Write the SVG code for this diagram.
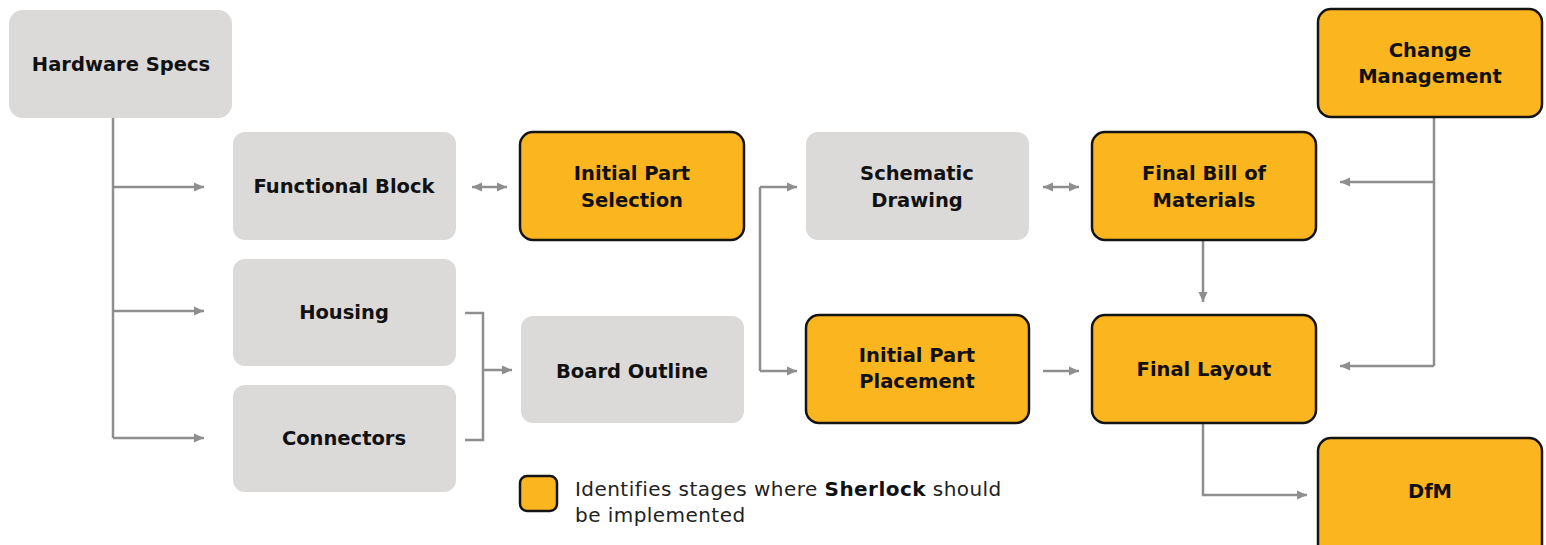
<svg xmlns="http://www.w3.org/2000/svg" width="1546" height="545" viewBox="0 0 1546 545">
<style>
.g{fill:#dbdad8}
.o{fill:#fbb51f;stroke:#141414;stroke-width:2.5}
.t{font-family:"DejaVu Sans","Liberation Sans",sans-serif;font-weight:bold;font-size:19.5px;fill:#111;text-anchor:middle}
.c{fill:none;stroke:#8e8e8e;stroke-width:2.5}
.lg{font-family:"DejaVu Sans","Liberation Sans",sans-serif;font-size:20px;letter-spacing:0.45px;fill:#222}
</style>
<defs>
<marker id="a" markerUnits="userSpaceOnUse" markerWidth="12" markerHeight="10" refX="10" refY="5" orient="auto-start-reverse">
<path d="M0,0.5 L10,5 L0,9.5 z" fill="#8e8e8e"/>
</marker>
</defs>
<rect width="1546" height="545" fill="#fff"/>
<g id="connectors">
<path class="c" d="M113,118 V438"/>
<path class="c" d="M113,187 H204" marker-end="url(#a)"/>
<path class="c" d="M113,311 H204" marker-end="url(#a)"/>
<path class="c" d="M113,438 H204" marker-end="url(#a)"/>
<path class="c" d="M472,187 H507" marker-start="url(#a)" marker-end="url(#a)"/>
<path class="c" d="M465,313 H483 V440 H465"/>
<path class="c" d="M483,370 H512" marker-end="url(#a)"/>
<path class="c" d="M760,187 V371"/>
<path class="c" d="M760,187 H797" marker-end="url(#a)"/>
<path class="c" d="M760,371 H797" marker-end="url(#a)"/>
<path class="c" d="M1043,187 H1079" marker-start="url(#a)" marker-end="url(#a)"/>
<path class="c" d="M1043,371 H1079" marker-end="url(#a)"/>
<path class="c" d="M1203,240 V302" marker-end="url(#a)"/>
<path class="c" d="M1434,118 V366"/>
<path class="c" d="M1434,182 H1340" marker-end="url(#a)"/>
<path class="c" d="M1434,366 H1340" marker-end="url(#a)"/>
<path class="c" d="M1203,423 V495 H1307" marker-end="url(#a)"/>
</g>
<g id="hardware-specs"><rect class="g" x="9" y="10" width="223" height="108" rx="14"/><text class="t" x="121" y="71">Hardware Specs</text></g>
<g id="functional-block"><rect class="g" x="233" y="132" width="223" height="108" rx="12"/><text class="t" x="344" y="193">Functional Block</text></g>
<g id="housing"><rect class="g" x="233" y="259" width="223" height="107" rx="12"/><text class="t" x="344" y="319">Housing</text></g>
<g id="connectors-node"><rect class="g" x="233" y="385" width="223" height="107" rx="12"/><text class="t" x="344" y="445">Connectors</text></g>
<g id="initial-part-selection"><rect class="o" x="520" y="132" width="224" height="108" rx="13"/><text class="t" x="632" y="180">Initial Part</text><text class="t" x="632" y="207">Selection</text></g>
<g id="board-outline"><rect class="g" x="521" y="316" width="223" height="107" rx="12"/><text class="t" x="632" y="378">Board Outline</text></g>
<g id="schematic-drawing"><rect class="g" x="806" y="132" width="223" height="108" rx="12"/><text class="t" x="917" y="180">Schematic</text><text class="t" x="917" y="207">Drawing</text></g>
<g id="initial-part-placement"><rect class="o" x="806" y="315" width="223" height="108" rx="13"/><text class="t" x="917" y="362">Initial Part</text><text class="t" x="917" y="388">Placement</text></g>
<g id="final-bom"><rect class="o" x="1092" y="132" width="224" height="108" rx="13"/><text class="t" x="1204" y="180">Final Bill of</text><text class="t" x="1204" y="207">Materials</text></g>
<g id="final-layout"><rect class="o" x="1092" y="315" width="224" height="108" rx="13"/><text class="t" x="1204" y="376">Final Layout</text></g>
<g id="change-management"><rect class="o" x="1318" y="9" width="224" height="108" rx="13"/><text class="t" x="1430" y="57">Change</text><text class="t" x="1430" y="83">Management</text></g>
<g id="dfm"><rect class="o" x="1318" y="438" width="224" height="120" rx="13"/><text class="t" x="1430" y="498">DfM</text></g>
<g id="legend">
<rect class="o" x="520" y="476" width="37" height="35" rx="7"/>
<text class="lg" x="575" y="496">Identifies stages where <tspan font-weight="bold" fill="#111">Sherlock</tspan> should</text>
<text class="lg" x="575" y="522">be implemented</text>
</g>
</svg>
